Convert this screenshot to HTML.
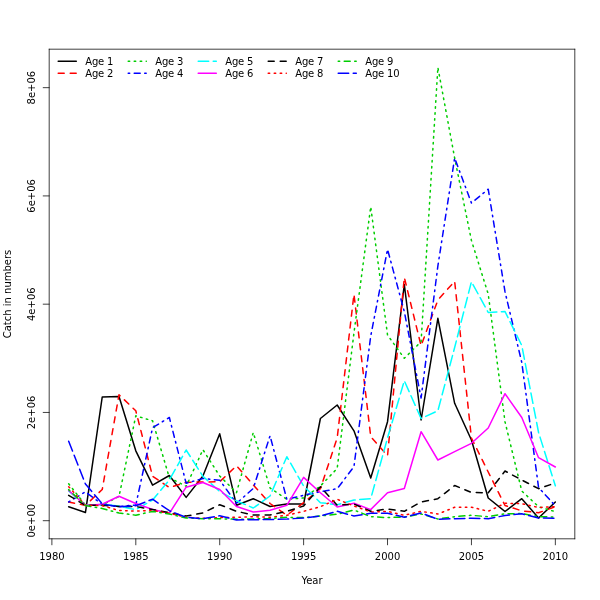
<!DOCTYPE html>
<html><head><meta charset="utf-8"><title>Catch in numbers</title>
<style>html,body{margin:0;padding:0;background:#fff}svg{display:block}text{font-family:"DejaVu Sans","Liberation Sans",sans-serif;font-size:10px;fill:#000}</style></head><body>
<svg width="600" height="600" viewBox="0 0 600 600">
<rect width="600" height="600" fill="#fff"/>
<g fill="none" stroke-width="1.5" stroke-linecap="round" stroke-linejoin="round">
<polyline stroke="#000" points="68.67,506.70 85.45,512.50 102.23,397.00 119.01,396.50 135.80,450.80 152.58,485.20 169.36,475.50 186.14,497.40 202.92,476.00 219.71,433.80 236.49,505.30 253.27,498.70 270.05,506.50 286.83,504.00 303.62,504.00 320.40,418.50 337.18,405.00 353.96,430.80 370.74,478.00 387.53,421.70 404.31,284.50 421.09,420.00 437.87,318.30 454.65,403.30 471.44,440.00 488.22,498.00 505.00,511.50 521.78,498.70 538.56,518.00 555.35,502.00"/>
<polyline stroke="#f00" stroke-dasharray="6 6" points="68.67,502.00 85.45,505.40 102.23,489.50 119.01,394.70 135.80,410.80 152.58,476.30 169.36,487.50 186.14,482.30 202.92,482.00 219.71,481.80 236.49,465.70 253.27,485.00 270.05,503.50 286.83,515.30 303.62,502.70 320.40,488.70 337.18,438.00 353.96,294.20 370.74,436.70 387.53,455.80 404.31,277.40 421.09,345.80 437.87,300.00 454.65,281.30 471.44,438.00 488.22,472.00 505.00,505.50 521.78,510.80 538.56,512.80 555.35,506.70"/>
<polyline stroke="#00cd00" stroke-dasharray="1.5 4.5" points="68.67,483.80 85.45,505.00 102.23,505.00 119.01,496.50 135.80,415.80 152.58,420.80 169.36,477.80 186.14,486.30 202.92,449.70 219.71,476.00 236.49,492.70 253.27,432.50 270.05,488.00 286.83,499.30 303.62,498.00 320.40,486.00 337.18,468.50 353.96,333.00 370.74,206.70 387.53,335.00 404.31,358.30 421.09,341.70 437.87,67.40 454.65,158.00 471.44,240.50 488.22,294.00 505.00,421.70 521.78,491.00 538.56,506.70 555.35,511.70"/>
<polyline stroke="#00f" stroke-dasharray="1.5 4.5 6 4.5" points="68.67,502.00 85.45,491.80 102.23,504.50 119.01,506.50 135.80,505.00 152.58,427.70 169.36,417.50 186.14,483.30 202.92,478.50 219.71,480.20 236.49,503.30 253.27,488.50 270.05,435.80 286.83,499.30 303.62,495.30 320.40,491.70 337.18,488.70 353.96,466.70 370.74,336.00 387.53,249.30 404.31,311.60 421.09,398.00 437.87,266.00 454.65,158.00 471.44,203.00 488.22,189.20 505.00,291.70 521.78,362.50 538.56,487.50 555.35,505.80"/>
<polyline stroke="#0ff" stroke-dasharray="10.5 4.5" points="68.67,491.00 85.45,505.40 102.23,504.50 119.01,506.00 135.80,509.70 152.58,500.00 169.36,480.00 186.14,450.00 202.92,476.30 219.71,491.50 236.49,500.70 253.27,508.00 270.05,496.00 286.83,456.70 303.62,486.00 320.40,502.70 337.18,504.70 353.96,500.00 370.74,498.70 387.53,438.00 404.31,380.80 421.09,418.50 437.87,410.80 454.65,347.50 471.44,281.70 488.22,312.50 505.00,311.50 521.78,345.50 538.56,432.50 555.35,485.80"/>
<polyline stroke="#f0f" points="68.67,490.50 85.45,505.40 102.23,504.30 119.01,496.30 135.80,503.50 152.58,509.50 169.36,513.30 186.14,487.20 202.92,482.50 219.71,489.50 236.49,506.50 253.27,512.00 270.05,510.20 286.83,505.30 303.62,477.40 320.40,492.70 337.18,507.00 353.96,503.30 370.74,509.60 387.53,492.70 404.31,488.50 421.09,431.70 437.87,460.00 454.65,451.70 471.44,443.30 488.22,428.00 505.00,393.70 521.78,417.50 538.56,457.70 555.35,467.00"/>
<polyline stroke="#000" stroke-dasharray="6 6" points="68.67,495.40 85.45,505.40 102.23,505.20 119.01,506.50 135.80,506.50 152.58,509.50 169.36,512.70 186.14,516.00 202.92,513.00 219.71,504.70 236.49,511.30 253.27,515.00 270.05,515.00 286.83,511.30 303.62,506.00 320.40,486.70 337.18,505.30 353.96,504.00 370.74,511.30 387.53,509.00 404.31,511.30 421.09,502.00 437.87,498.70 454.65,485.50 471.44,492.50 488.22,492.70 505.00,471.00 521.78,480.00 538.56,488.70 555.35,483.00"/>
<polyline stroke="#f00" stroke-dasharray="1.5 4.5" points="68.67,486.70 85.45,505.40 102.23,505.70 119.01,510.50 135.80,511.00 152.58,510.60 169.36,513.30 186.14,517.30 202.92,518.20 219.71,517.60 236.49,517.30 253.27,516.70 270.05,517.30 286.83,515.30 303.62,511.30 320.40,506.70 337.18,499.30 353.96,506.00 370.74,512.00 387.53,511.30 404.31,515.30 421.09,511.30 437.87,514.00 454.65,507.30 471.44,507.20 488.22,511.30 505.00,503.30 521.78,503.70 538.56,507.50 555.35,506.70"/>
<polyline stroke="#00cd00" stroke-dasharray="1.5 4.5 6 4.5" points="68.67,489.60 85.45,505.60 102.23,508.50 119.01,513.00 135.80,515.20 152.58,511.40 169.36,514.00 186.14,518.00 202.92,518.70 219.71,518.70 236.49,519.30 253.27,519.00 270.05,518.50 286.83,517.30 303.62,517.60 320.40,516.00 337.18,514.20 353.96,510.00 370.74,516.70 387.53,517.60 404.31,517.00 421.09,514.00 437.87,519.00 454.65,516.70 471.44,515.30 488.22,516.70 505.00,513.70 521.78,513.60 538.56,516.70 555.35,517.00"/>
<polyline stroke="#00f" stroke-dasharray="10.5 4.5" points="68.67,441.30 85.45,484.00 102.23,503.90 119.01,506.80 135.80,505.70 152.58,499.20 169.36,510.70 186.14,517.30 202.92,518.70 219.71,515.70 236.49,520.00 253.27,519.70 270.05,519.50 286.83,519.00 303.62,518.00 320.40,516.00 337.18,511.30 353.96,516.00 370.74,513.30 387.53,513.30 404.31,517.20 421.09,513.00 437.87,519.30 454.65,518.70 471.44,518.20 488.22,518.70 505.00,515.50 521.78,513.80 538.56,518.00 555.35,518.30"/>
</g>
<g fill="none" stroke="#000" stroke-width="0.75" stroke-linecap="round" stroke-linejoin="round">
<path d="M49.2 538.8V49.2"/><path d="M49.2 49.2H574.8"/><path d="M574.8 49.2V538.8"/><path d="M49.2 538.8H574.8"/>
<line x1="51.89" y1="538.8" x2="51.89" y2="544.8"/>
<line x1="135.80" y1="538.8" x2="135.80" y2="544.8"/>
<line x1="219.71" y1="538.8" x2="219.71" y2="544.8"/>
<line x1="303.62" y1="538.8" x2="303.62" y2="544.8"/>
<line x1="387.53" y1="538.8" x2="387.53" y2="544.8"/>
<line x1="471.44" y1="538.8" x2="471.44" y2="544.8"/>
<line x1="555.35" y1="538.8" x2="555.35" y2="544.8"/>
<line x1="49.2" y1="520.70" x2="43.2" y2="520.70"/>
<line x1="49.2" y1="412.44" x2="43.2" y2="412.44"/>
<line x1="49.2" y1="304.18" x2="43.2" y2="304.18"/>
<line x1="49.2" y1="195.92" x2="43.2" y2="195.92"/>
<line x1="49.2" y1="87.66" x2="43.2" y2="87.66"/>
</g>
<g text-anchor="middle">
<text x="51.89" y="559.8">1980</text>
<text x="135.80" y="559.8">1985</text>
<text x="219.71" y="559.8">1990</text>
<text x="303.62" y="559.8">1995</text>
<text x="387.53" y="559.8">2000</text>
<text x="471.44" y="559.8">2005</text>
<text x="555.35" y="559.8">2010</text>
<text transform="translate(35,520.70) rotate(-90)">0e+00</text>
<text transform="translate(35,412.44) rotate(-90)">2e+06</text>
<text transform="translate(35,304.18) rotate(-90)">4e+06</text>
<text transform="translate(35,195.92) rotate(-90)">6e+06</text>
<text transform="translate(35,87.66) rotate(-90)">8e+06</text>
<text x="312" y="583.8">Year</text>
<text transform="translate(11.2,294) rotate(-90)">Catch in numbers</text>
</g>
<g fill="none" stroke-width="1.5" stroke-linecap="round">
<line stroke="#000" x1="58.20" y1="61.20" x2="76.30" y2="61.20"/>
<line stroke="#f00" stroke-dasharray="6 6" x1="58.20" y1="73.20" x2="76.30" y2="73.20"/>
<line stroke="#00cd00" stroke-dasharray="1.5 4.5" x1="128.20" y1="61.20" x2="146.30" y2="61.20"/>
<line stroke="#00f" stroke-dasharray="1.5 4.5 6 4.5" x1="128.20" y1="73.20" x2="146.30" y2="73.20"/>
<line stroke="#0ff" stroke-dasharray="10.5 4.5" x1="198.20" y1="61.20" x2="216.30" y2="61.20"/>
<line stroke="#f0f" x1="198.20" y1="73.20" x2="216.30" y2="73.20"/>
<line stroke="#000" stroke-dasharray="6 6" x1="268.20" y1="61.20" x2="286.30" y2="61.20"/>
<line stroke="#f00" stroke-dasharray="1.5 4.5" x1="268.20" y1="73.20" x2="286.30" y2="73.20"/>
<line stroke="#00cd00" stroke-dasharray="1.5 4.5 6 4.5" x1="338.20" y1="61.20" x2="356.30" y2="61.20"/>
<line stroke="#00f" stroke-dasharray="10.5 4.5" x1="338.20" y1="73.20" x2="356.30" y2="73.20"/>
</g>
<g letter-spacing="-0.15">
<text x="85.20" y="64.85">Age 1</text>
<text x="85.20" y="76.85">Age 2</text>
<text x="155.20" y="64.85">Age 3</text>
<text x="155.20" y="76.85">Age 4</text>
<text x="225.20" y="64.85">Age 5</text>
<text x="225.20" y="76.85">Age 6</text>
<text x="295.20" y="64.85">Age 7</text>
<text x="295.20" y="76.85">Age 8</text>
<text x="365.20" y="64.85">Age 9</text>
<text x="365.20" y="76.85">Age 10</text>
</g>
</svg></body></html>
